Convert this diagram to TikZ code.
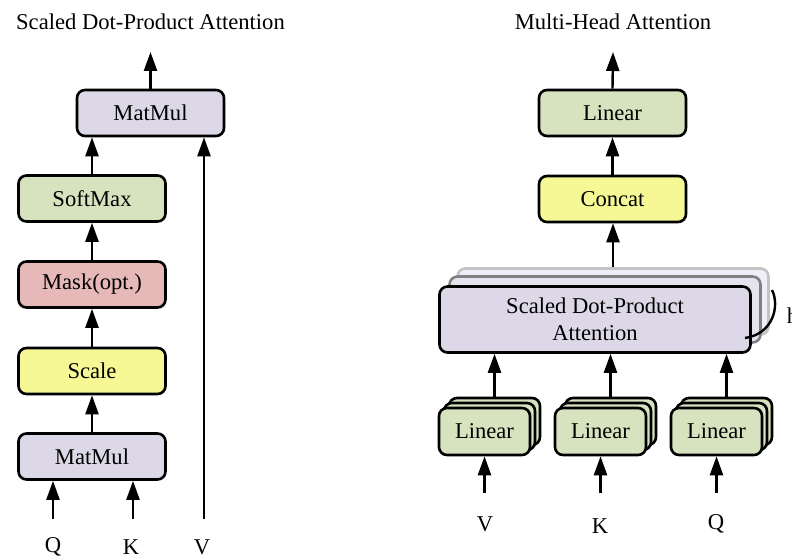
\documentclass[tikz,border=0pt]{standalone}
\usepackage{fontspec}
\setmainfont{Liberation Serif}
\usetikzlibrary{arrows.meta}
\definecolor{lav}{RGB}{221,216,231}
\definecolor{lavmid}{RGB}{230,226,238}
\definecolor{lavpale}{RGB}{239,237,245}
\definecolor{leaf}{RGB}{215,227,191}
\definecolor{rose}{RGB}{230,185,184}
\definecolor{lemon}{RGB}{246,248,150}
\definecolor{edgemid}{RGB}{128,128,128}
\definecolor{edgepale}{RGB}{195,195,195}
\begin{document}
\begin{tikzpicture}[x=1pt,y=-1pt,
  txt/.style={font=\fontsize{22.6}{27}\selectfont},
  box/.style={txt, draw=black, line width=2.6pt, rounded corners=8pt,
    inner sep=0pt, align=center},
  widebox/.style={box, minimum width=147pt, minimum height=46pt},
  headbox/.style={box, minimum width=311pt, minimum height=66pt},
  smallbox/.style={box, fill=leaf, minimum width=91pt, minimum height=47pt},
  flow/.style={line width=2.4pt, -{Triangle[length=19pt,width=13pt]}},
  lbl/.style={txt, anchor=base, inner sep=0pt},
  bracket/.style={line width=2.4pt}]
\useasboundingbox (0,0) rectangle (792,559);

% ---------- Scaled Dot-Product Attention ----------
\node[lbl] (titleL) at (150.5,30) {Scaled Dot-Product Attention};
\node[widebox, fill=lav]   (mmTop) at (150.5,113) {MatMul};
\node[widebox, fill=leaf]  (soft)  at (92,198.5)  {SoftMax};
\node[widebox, fill=rose]  (mask)  at (92,284.5)  {Mask(opt.)};
\node[widebox, fill=lemon] (scale) at (92,371)    {Scale};
\node[widebox, fill=lav]   (mmBot) at (92,456.5)  {MatMul};

\coordinate (outL) at (150.5,52);
\coordinate (qL) at (53,519);
\coordinate (kL) at (133,519);
\coordinate (vL) at (204,519);

\draw[flow] (mmTop.north) -- (outL);
\draw[flow] (soft.north) -- (soft.north |- mmTop.south);
\draw[flow] (mask.north) -- (soft.south);
\draw[flow] (scale.north) -- (mask.south);
\draw[flow] (mmBot.north) -- (scale.south);
\draw[flow] (qL) -- (qL |- mmBot.south);
\draw[flow] (kL) -- (kL |- mmBot.south);
\draw[flow] (vL) -- (vL |- mmTop.south);

\node[lbl] (labQL) at (53,552)  {Q};
\node[lbl] (labKL) at (131,554) {K};
\node[lbl] (labVL) at (202,554) {V};

% ---------- Multi-Head Attention ----------
\node[lbl] (titleR) at (613,30) {Multi-Head Attention};
\node[widebox, fill=leaf]  (linTop) at (612.5,113) {Linear};
\node[widebox, fill=lemon] (concat) at (612.5,199) {Concat};

% stacked attention heads
\node[headbox, draw=edgepale, fill=lavpale] (sdpaB) at (613,301.5) {};
\node[headbox, draw=edgemid, fill=lavmid]   (sdpaM) at (605,309.5) {};
\node[headbox, fill=lav] (sdpa) at (595,319.5) {Scaled Dot-Product\\Attention};

% stacked linear projections
\foreach \n/\cx in {V/484.5, K/600.5, Q/716.5}{
  \node[smallbox] (lin\n B) at (\cx+10,421.5) {};
  \node[smallbox] (lin\n M) at (\cx+5,426.5) {};
  \node[smallbox] (lin\n)   at (\cx,431.5) {Linear};
  \coordinate (in\n) at (\cx,493);
  \draw[flow] (in\n) -- (in\n |- lin\n.south);
  \draw[flow] (lin\n B.north) -- (lin\n B.north |- sdpa.south);
}

\coordinate (outR) at (613,52);
\draw[flow] (linTop.north) -- (outR);
\draw[flow] (concat.north) -- (concat.north |- linTop.south);
\draw[flow] (sdpaB.north) -- (sdpaB.north |- concat.south);

\node[lbl] (labVR) at (485,531) {V};
\node[lbl] (labKR) at (600,533) {K};
\node[lbl] (labQR) at (716,529) {Q};

% head count brace
\coordinate (brTop) at (772,290);
\coordinate (brEnd) at (745,338);
\draw[bracket] (brTop) .. controls (780,306) and (773,334) .. (brEnd);
\node[lbl] (labH) at (792.5,323) {h};
\end{tikzpicture}
\end{document}
